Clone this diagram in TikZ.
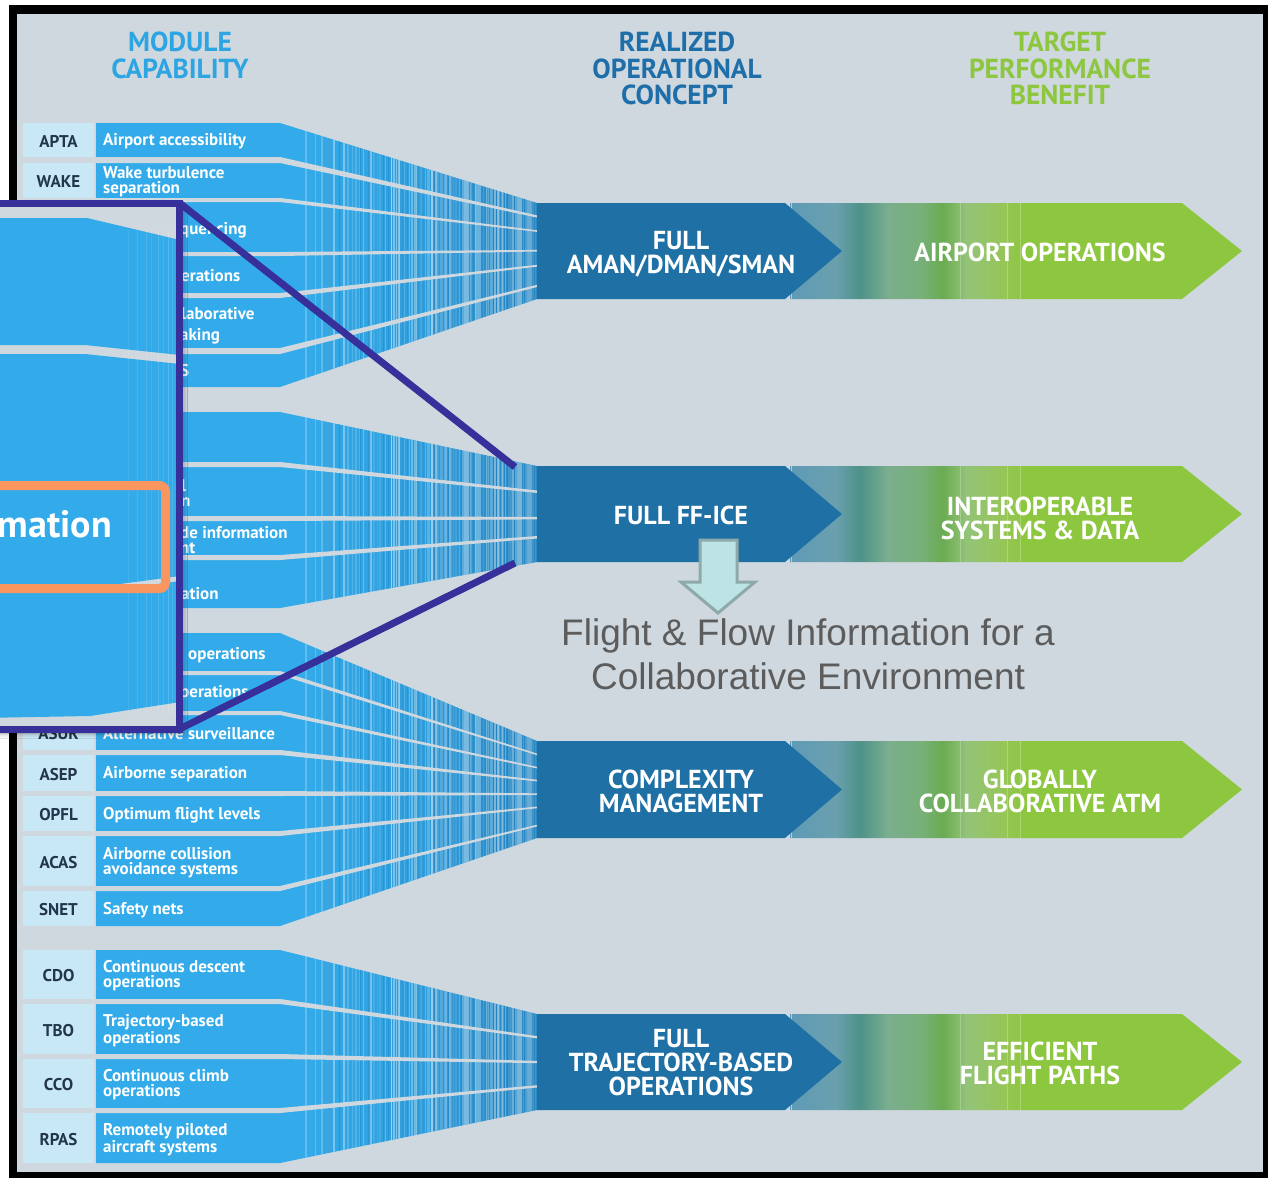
\documentclass[tikz,border=0pt]{standalone}
\usepackage{fontspec}
\setmainfont{PT Sans}
\newfontfamily\arialf{Liberation Sans}
\usetikzlibrary{shadows.blur}
\definecolor{bgc}{HTML}{CFD8DE}
\definecolor{lblue}{HTML}{C9E8F6}
\definecolor{bandblue}{HTML}{33ABEA}
\definecolor{bandmid}{HTML}{2F9DDB}
\definecolor{banddark}{HTML}{2A88C3}
\definecolor{streak}{HTML}{1E6FA8}
\definecolor{conblue}{HTML}{1F70A5}
\definecolor{leaf}{HTML}{8DC63F}
\definecolor{hblue}{HTML}{2EA5E3}
\definecolor{hdblue}{HTML}{1E6FA9}
\definecolor{codetxt}{HTML}{22354A}
\definecolor{indigo}{HTML}{37309A}
\definecolor{orng}{HTML}{F9955E}
\definecolor{flowgray}{HTML}{5C5C5C}
\definecolor{arrfill}{HTML}{BDE3E5}
\definecolor{arrline}{HTML}{8EA9A9}
\definecolor{g0}{HTML}{5E9AB6}
\definecolor{g1}{HTML}{6AA0AE}
\definecolor{g2}{HTML}{4D9289}
\definecolor{g3}{HTML}{7AAE8E}
\definecolor{g4}{HTML}{78B07A}
\definecolor{g5}{HTML}{6AAC52}
\definecolor{g6}{HTML}{93C378}
\definecolor{g7}{HTML}{96C656}
\pgfdeclarehorizontalshading{bandsh}{100bp}{color(0bp)=(bandblue); color(48bp)=(bandblue); color(62bp)=(bandmid); color(75bp)=(banddark); color(100bp)=(banddark)}
\pgfdeclarehorizontalshading{greensh}{100bp}{color(0bp)=(g0); color(25bp)=(g0); color(30bp)=(g1); color(32.7bp)=(g2); color(35.8bp)=(g3); color(39.4bp)=(g4); color(41.9bp)=(g5); color(44.5bp)=(g6); color(48.8bp)=(g7); color(50.7bp)=(leaf); color(100bp)=(leaf)}

\newcommand\envelope[4]{%
 \shade[shading=bandsh] (96,#1) -- (280,#1) -- (537,#3) -- (537,#4) -- (280,#2) -- (96,#2) -- cycle;
 \begin{scope}
 \clip (96,#1) -- (280,#1) -- (537,#3) -- (537,#4) -- (280,#2) -- (96,#2) -- cycle;
 \foreach \i in {1,...,120}{%
  \pgfmathsetmacro\xx{286+251*pow((mod(\i*37,101)+1)/102,0.55)}%
  \pgfmathsetmacro\op{0.10+0.32*mod(\i*7,5)/5}%
  \pgfmathsetmacro\lw{0.5+0.45*mod(\i*3,4)}%
  \pgfmathtruncatemacro\dk{mod(\i,4)}%
  \ifnum\dk=0 \def\sc{streak}\else\def\sc{white}\fi
  \draw[draw=\sc, draw opacity=\op, line width=\lw pt] (\xx,#1) -- (\xx,#2);
 }
 \end{scope}}
\newcommand\gapfill[6]{%
 \pgfmathsetmacro\ga{#3+(#5-#1)/(#2-#1)*(#4-#3)}%
 \pgfmathsetmacro\gb{max(#3+(#6-#1)/(#2-#1)*(#4-#3),\ga+1.6)}%
 \fill[bgc] (95,#5) -- (280,#5) -- (537,\ga) -- (537,\gb) -- (280,#6) -- (95,#6) -- cycle;}
\newcommand\modrow[5]{%
 \pgfmathsetmacro\midy{(#4+#5)/2}%
 \pgfmathsetmacro\hh{#5-#4}%
 \node[codebox, minimum height=\hh pt] (#1c) at (58.5,\midy) {};
 \node[codetext] (#1k) at (58.5,\midy+1.5) {#2};
 \node[rowtext] (#1t) at (103,\midy+1.5) {#3};}
\newcommand\hidrow[3]{%
 \pgfmathsetmacro\midy{(#2+#3)/2}%
 \pgfmathsetmacro\hh{#3-#2}%
 \node[codebox, minimum height=\hh pt] (#1c) at (58.5,\midy) {};}
\newcommand\concept[5]{%
 \pgfmathsetmacro\cc{(#2+#3)/2}%
 \shade[shading=greensh] (790,#2) -- (1182,#2) -- (1242,\cc) -- (1182,#3) -- (790,#3) -- cycle;
 \foreach \xv/\ov in {791/0.5,960/0.25,1007/0.25,1020/0.25}{\draw[white, opacity=\ov, line width=0.7pt] (\xv,#2) -- (\xv,#3);}
 \fill[conblue] (537,#2) -- (785,#2) -- (842,\cc) -- (785,#3) -- (537,#3) -- cycle;
 \node[contxt] (#1) at (681,\cc+#5) {#4};}
\newcommand\benefit[3]{%
 \node[contxt] (#1) at (1040,#2) {#3};}

\begin{document}
\begin{tikzpicture}[x=1pt,y=-1pt,
 codebox/.style={fill=lblue, minimum width=71pt, inner sep=0pt},
 codetext/.style={inner sep=0pt, text=codetxt, font=\fontsize{17}{17}\selectfont\bfseries},
 rowtext/.style={anchor=west, align=left, inner sep=0pt, text=white, font=\fontsize{17}{15}\selectfont\bfseries},
 frag/.style={anchor=west, align=left, inner sep=0pt, text=white, font=\fontsize{17}{15}\selectfont\bfseries},
 hdr/.style={align=center, inner sep=0pt, font=\fontsize{27.5}{26.5}\selectfont\bfseries},
 contxt/.style={align=center, inner sep=0pt, text=white, font=\fontsize{26}{24}\selectfont\bfseries},
 flow/.style={anchor=base, inner sep=0pt, text=flowgray, font=\arialf\fontsize{37}{37}\selectfont},
 callline/.style={draw=indigo, line width=7pt}]
\useasboundingbox (0,0) rectangle (1268,1178);
\fill[white] (0,0) rectangle (1268,1178);
\fill[black] (9,5) rectangle (1268,1178);
\fill[bgc] (17,14) rectangle (1263,1172);

% headers
\node[hdr, text=hblue] (hmod) at (180,55.5) {MODULE\\CAPABILITY};
\node[hdr, text=hdblue] (hroc) at (677,68.5) {REALIZED\\OPERATIONAL\\CONCEPT};
\node[hdr, text=leaf] (htpb) at (1060,68.5) {TARGET\\PERFORMANCE\\BENEFIT};

% group 1
\envelope{123}{387}{203}{299}
\gapfill{123}{387}{203}{299}{157}{163}
\gapfill{123}{387}{203}{299}{198}{202}
\gapfill{123}{387}{203}{299}{252}{256}
\gapfill{123}{387}{203}{299}{293}{298}
\gapfill{123}{387}{203}{299}{348}{354}
\modrow{apta}{APTA}{Airport accessibility}{123}{157}
\modrow{wake}{WAKE}{Wake turbulence\\separation}{163}{198}
\hidrow{rseq}{202}{252}
\hidrow{surf}{256}{293}
\hidrow{acdm}{298}{348}
\hidrow{rats}{354}{387}
\node[frag] (f1) at (180,230) {quencing};
\node[frag] (f2) at (181,276) {erations};
\node[frag] (f3) at (181,314) {laborative};
\node[frag] (f4) at (180,336) {aking};
\node[frag] (f5) at (180,371) {S};

% group 2
\envelope{412}{608}{466}{562}
\gapfill{412}{608}{466}{562}{462}{467}
\gapfill{412}{608}{466}{562}{516}{521}
\gapfill{412}{608}{466}{562}{555}{560}
\hidrow{fice}{412}{462}
\hidrow{datm}{467}{516}
\hidrow{swim}{521}{555}
\hidrow{amet}{560}{608}
\node[frag] (f6) at (181,493) {l\\n};
\node[frag] (f8) at (180,540.5) {de information\\nt};
\node[frag] (f10) at (181,594) {ation};

% group 3
\envelope{633}{926}{741}{838}
\gapfill{633}{926}{741}{838}{671}{675}
\gapfill{633}{926}{741}{838}{711}{715}
\gapfill{633}{926}{741}{838}{750}{755}
\gapfill{633}{926}{741}{838}{791}{796}
\gapfill{633}{926}{741}{838}{831}{836}
\gapfill{633}{926}{741}{838}{886}{891}
\hidrow{frto}{633}{671}
\hidrow{nops}{675}{711}
\modrow{asur}{ASUR}{Alternative surveillance}{715}{750}
\modrow{asep}{ASEP}{Airborne separation}{755}{791}
\modrow{opfl}{OPFL}{Optimum flight levels}{796}{831}
\modrow{acas}{ACAS}{Airborne collision\\avoidance systems}{836}{886}
\modrow{snet}{SNET}{Safety nets}{891}{926}
\node[frag] (f11) at (188,655) {operations};
\node[frag] (f12) at (180,693) {perations};

% group 4
\envelope{950}{1163}{1014}{1110}
\gapfill{950}{1163}{1014}{1110}{999}{1004}
\gapfill{950}{1163}{1014}{1110}{1054}{1059}
\gapfill{950}{1163}{1014}{1110}{1108}{1113}
\modrow{cdo}{CDO}{Continuous descent\\operations}{950}{999}
\modrow{tbo}{TBO}{Trajectory-based\\operations}{1004}{1054}
\modrow{cco}{CCO}{Continuous climb\\operations}{1059}{1108}
\modrow{rpas}{RPAS}{Remotely piloted\\aircraft systems}{1113}{1163}

% arrows
\concept{c1}{203}{299}{FULL\\AMAN/DMAN/SMAN}{3}
\benefit{b1}{252}{AIRPORT OPERATIONS}
\concept{c2}{466}{562}{FULL FF-ICE}{1}
\benefit{b2}{518.5}{INTEROPERABLE\\SYSTEMS \& DATA}
\concept{c3}{741}{838}{COMPLEXITY\\MANAGEMENT}{1.5}
\benefit{b3}{791.5}{GLOBALLY\\COLLABORATIVE ATM}
\concept{c4}{1014}{1110}{FULL\\TRAJECTORY-BASED\\OPERATIONS}{1}
\benefit{b4}{1063}{EFFICIENT\\FLIGHT PATHS}

% down arrow and explanation
\filldraw[fill=arrfill, draw=arrline, line width=3pt, line join=miter]
 (700,540) -- (737,540) -- (737,582) -- (755,582) -- (718,613) -- (681,582) -- (700,582) -- cycle;
\node[flow] (fl1) at (808,645) {Flight \& Flow Information for a};
\node[flow] (fl2) at (808,689) {Collaborative Environment};

% callout (magnified view)
\fill[bgc, blur shadow={shadow xshift=3pt, shadow yshift=-4pt, shadow blur radius=5pt, shadow opacity=45}] (-20,203) rectangle (179.5,729);
\begin{scope}
\clip (-20,203) rectangle (179.5,729);
\fill[bandblue] (-20,218) -- (87,218) -- (180,240) -- (180,355) -- (85,345) -- (-20,345) -- cycle;
\fill[bandblue] (-20,354) -- (85,354) -- (180,364) -- (180,576) -- (90,588) -- (-20,588) -- cycle;
\fill[bandblue] (-20,593) -- (90,593) -- (180,581) -- (180,702) -- (90,716) -- (-20,718) -- cycle;
\foreach \xv/\ov in {128/0.08,137/0.1,146/0.12,151/0.08,158/0.14,163/0.1,168/0.16,172/0.12}{
 \draw[white, opacity=\ov, line width=1pt] (\xv,230) -- (\xv,715);}
\end{scope}
\draw[orng, line width=9pt, rounded corners=6pt] (-20,485.5) rectangle (165.5,588.5);
\node[anchor=base east, inner sep=0pt, text=white, font=\fontsize{38}{38}\selectfont\bfseries] (mag) at (112,537) {mation};
\draw[callline] (-20,203) -- (179.5,203) -- (179.5,729) -- (-20,729);
\coordinate (ctr) at (179.5,203);
\coordinate (cbr) at (179.5,729);
\coordinate (zt) at (515,467);
\coordinate (zb) at (515,563);
\draw[callline] (ctr) -- (zt);
\draw[callline] (cbr) -- (zb);
\end{tikzpicture}
\end{document}
